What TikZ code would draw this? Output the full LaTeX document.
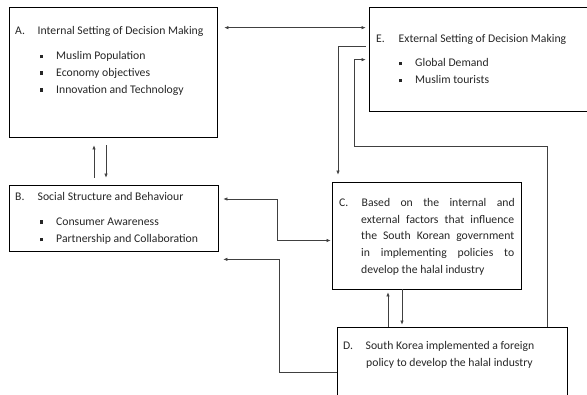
\documentclass[tikz,border=0pt]{standalone}
\usepackage{fontspec}
\setmainfont{Carlito}
\usetikzlibrary{arrows.meta}

\newcommand{\sqb}{\rule[1.6pt]{3.2pt}{3.6pt}}
\newcommand{\itm}[1]{\makebox[16pt][l]{\sqb}#1}
\newcommand{\hdr}[2]{\makebox[22.5pt][l]{#1}#2}

\begin{document}
\begin{tikzpicture}[x=1pt,y=-1pt,
  box/.style={draw,line width=0.7pt,inner sep=0pt},
  txt/.style={anchor=base west,inner sep=0pt,font=\fontsize{11.7}{16.7}\selectfont,text=black!85},
  link/.style={draw=black!75,line width=0.6pt},
  >={Latex[length=4pt,width=3.4pt]}]

		\clip (0,0) rectangle (587,395);

		% boxes
		\node[box,minimum width=208,minimum height=130] (A) at (113,72) {};
		\node[box,minimum width=240,minimum height=104] (E) at (489,59) {};
		\node[box,minimum width=209,minimum height=66] (B) at (113.5,218) {};
		\node[box,minimum width=189,minimum height=107] (C) at (426.5,235.5) {};
		\node[box,minimum width=230,minimum height=90] (D) at (452,372) {};

		% texts
		\node[txt] (a0) at (15,35) {\hdr{A.}{Internal Setting of Decision Making}};
		\node[txt] (a1) at (40,60) {\itm{Muslim Population}};
		\node[txt] (a2) at (40,76.7) {\itm{Economy objectives}};
		\node[txt] (a3) at (40,93.4) {\itm{Innovation and Technology}};

		\node[txt] (e0) at (376,43) {\hdr{E.}{External Setting of Decision Making}};
		\node[txt] (e1) at (399,67) {\itm{Global Demand}};
		\node[txt] (e2) at (399,84) {\itm{Muslim tourists}};

		\node[txt] (b0) at (15,200.7) {\hdr{B.}{Social Structure and Behaviour}};
		\node[txt] (b1) at (40,225.7) {\itm{Consumer Awareness}};
		\node[txt] (b2) at (40,243) {\itm{Partnership and Collaboration}};

		\node[txt] (c0) at (339,206.3) {\hdr{C.}{\makebox[153pt][s]{Based on the internal and}}};
		\node[txt] (c1) at (361,223.3) {\makebox[153pt][s]{external factors that influence}};
		\node[txt] (c2) at (361,240) {\makebox[153pt][s]{the South Korean government}};
		\node[txt] (c3) at (361,256.7) {\makebox[153pt][s]{in implementing policies to}};
		\node[txt] (c4) at (361,273.3) {develop the halal industry};

		\node[txt] (d0) at (343,349.7) {\hdr{D.}{South Korea implemented a foreign}};
		\node[txt] (d1) at (366,366.7) {policy to develop the halal industry};

		% connectors
		\draw[link,<->] ([shift={(7,21)}]A.north east) -- ([shift={(-3,21)}]E.north west);
		\draw[link,->] ([shift={(-19.5,-7)}]B.north) -- ([shift={(-19,8)}]A.south);
		\draw[link,->] ([shift={(-7,8)}]A.south) -- ([shift={(-7.5,-7)}]B.north);
		\draw[link,->] ([shift={(-3,40)}]E.north west) -| ([shift={(-88.5,-7)}]C.north);
		\draw[link,->] ([xshift=-20]D.north east) -- ++(0,-180) -| ++(-193,-87) -- ([shift={(-3,53)}]E.north west);
		\draw[link,<->] ([shift={(5,-19)}]B.east) -- ++(54,0) |- ([shift={(-1,5)}]C.west);
		\draw[link,->] (D.west) -- ++(-57,0) |- ([shift={(5,8)}]B.south east);
		\draw[link,->] ([xshift=-64]D.north) -- ([shift={(-38.5,3)}]C.south);
		\draw[link,->] ([xshift=-24.5]C.south) -- ([shift={(-50,-2)}]D.north);

\end{tikzpicture}
\end{document}
